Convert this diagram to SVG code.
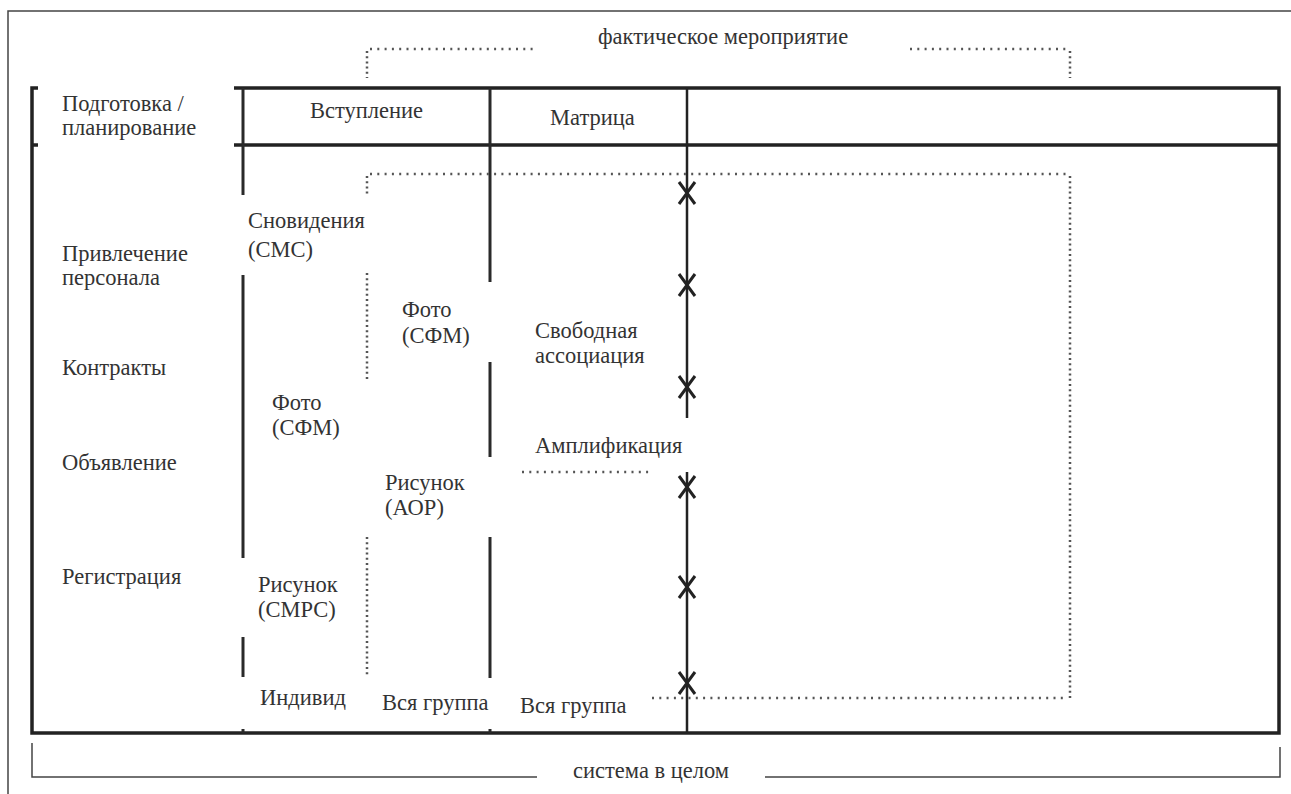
<svg xmlns="http://www.w3.org/2000/svg" width="1291" height="794" viewBox="0 0 1291 794">
  <style>
    text { font-family: 'Liberation Serif', 'Times New Roman', serif; font-size: 22.5px; fill: #333; }
    .frame { fill: none; stroke: #222; stroke-width: 3.5; }
    .col { fill: none; stroke: #2a2a2a; stroke-width: 3; }
    .axis { fill: none; stroke: #222; stroke-width: 2.5; }
    .thin { fill: none; stroke: #444; stroke-width: 1.5; }
    .dotH { fill: none; stroke: #555; stroke-width: 2.5; stroke-dasharray: 2 5.3; }
    .dotV { fill: none; stroke: #555; stroke-width: 2.5; stroke-dasharray: 2 3.2; }
    .mark { fill: none; stroke: #222; stroke-width: 3; }
  </style>
  <rect width="1291" height="794" fill="#fff"/>

  <!-- page border (top and left) -->
  <path class="thin" d="M8,800 V11 H1300"/>

  <!-- main table frame -->
  <g id="frame">
    <path class="frame" d="M38,88 H32 V733 H1279 V88 H234"/>
    <path class="frame" d="M32,145 H38"/>
    <path class="frame" d="M234,145 H1279"/>
  </g>

  <!-- column separators -->
  <g id="columns">
    <path class="col" d="M243,88 V195 M243,275 V558 M243,637 V677 M243,729 V733"/>
    <path class="col" d="M490,88 V282 M490,362 V457 M490,537 V678 M490,729 V733"/>
    <path class="axis" d="M687,88 V418 M687,472 V733"/>
  </g>

  <!-- crossing marks on the time axis -->
  <g id="marks">
    <path class="mark" d="M679,182 L687,193 L695,182 M679,204 L687,193 L695,204"/>
    <path class="mark" d="M679,274 L687,285 L695,274 M679,296 L687,285 L695,296"/>
    <path class="mark" d="M679,376 L687,387 L695,376 M679,398 L687,387 L695,398"/>
    <path class="mark" d="M679,476 L687,487 L695,476 M679,498 L687,487 L695,498"/>
    <path class="mark" d="M679,576 L687,587 L695,576 M679,598 L687,587 L695,598"/>
    <path class="mark" d="M679,672 L687,683 L695,672 M679,694 L687,683 L695,694"/>
  </g>

  <!-- dotted brackets -->
  <g id="connectors">
    <path class="dotH" d="M370,49 H535"/>
    <path class="dotV" d="M367,51 V78"/>
    <path class="dotH" d="M910,49 H1067"/>
    <path class="dotV" d="M1070,51 V78"/>
    <path class="dotH" d="M370,174 H1067"/>
    <path class="dotV" d="M367,176 V195"/>
    <path class="dotV" d="M1070,176 V698"/>
    <path class="dotH" d="M652,698 H1067"/>
    <path class="dotV" d="M367,273 V380"/>
    <path class="dotV" d="M367,537 V675" stroke-width="2"/>
    <path class="dotH" d="M522,472 H652" stroke-width="1.5" stroke="#999"/>
  </g>

  <!-- overall system bracket -->
  <g id="system">
    <path class="thin" d="M32,743 V777 H537"/>
    <path class="thin" d="M765,777 H1280 V747"/>
    <text x="573" y="778">система в целом</text>
  </g>

  <g id="title">
    <text x="598" y="44">фактическое мероприятие</text>
  </g>

  <!-- header row -->
  <g id="header">
    <text x="62" y="111">Подготовка /</text>
    <text x="62" y="135">планирование</text>
    <text x="310" y="118">Вступление</text>
    <text x="550" y="125">Матрица</text>
  </g>

  <!-- preparation stages -->
  <g id="prep">
    <text x="62" y="261">Привлечение</text>
    <text x="62" y="285">персонала</text>
    <text x="62" y="375">Контракты</text>
    <text x="62" y="470">Объявление</text>
    <text x="62" y="584">Регистрация</text>
  </g>

  <!-- individual column -->
  <g id="individual">
    <text x="248" y="228">Сновидения</text>
    <text x="248" y="257">(СМС)</text>
    <text x="272" y="410">Фото</text>
    <text x="272" y="435">(СФМ)</text>
    <text x="258" y="592">Рисунок</text>
    <text x="258" y="617">(СМРС)</text>
    <text x="260" y="705">Индивид</text>
  </g>

  <!-- introduction group column -->
  <g id="intro">
    <text x="402" y="317">Фото</text>
    <text x="402" y="343">(СФМ)</text>
    <text x="385" y="490">Рисунок</text>
    <text x="385" y="515">(АОР)</text>
    <text x="382" y="710">Вся группа</text>
  </g>

  <!-- matrix column -->
  <g id="matrix">
    <text x="535" y="338">Свободная</text>
    <text x="535" y="363">ассоциация</text>
    <text x="535" y="453">Амплификация</text>
    <text x="520" y="713">Вся группа</text>
  </g>
</svg>
